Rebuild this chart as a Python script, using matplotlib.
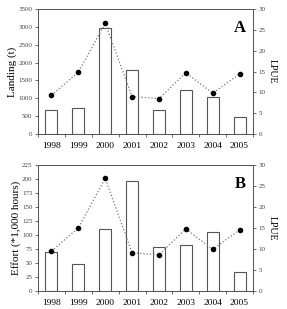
import numpy as np
import matplotlib.pyplot as plt
from matplotlib.ticker import FixedLocator

plt.rcParams['font.family'] = ['Liberation Serif', 'DejaVu Serif']

years = ['1998', '1999', '2000', '2001', '2002', '2003', '2004', '2005']
landing = [680, 720, 2960, 1800, 670, 1230, 1050, 490]
effort = [70, 48, 110, 197, 78, 82, 105, 34]
lpue_a = [9.3, 14.8, 26.6, 9.0, 8.5, 14.7, 9.8, 14.4]
lpue_b = [9.5, 15.0, 26.8, 9.1, 8.6, 14.8, 9.9, 14.5]

fig = plt.figure(figsize=(2.87, 3.09), dpi=100)
x = np.arange(len(years))


def panel(rect, bars, lpue, ymax, ystep, ylabel, letter):
    ax = fig.add_axes(rect)
    ax.bar(x, bars, width=0.45, color='white', edgecolor='#555555', linewidth=0.8)
    ax.set_xlim(-0.5, 7.5)
    ax.set_ylim(0, ymax)
    ax.set_yticks(np.arange(0, ymax + 1, ystep))
    ax.set_xticks(x)
    ax.set_xticklabels(years)
    ax.xaxis.set_minor_locator(FixedLocator(np.arange(-0.5, 8, 1)))
    ax.tick_params(axis='x', which='major', length=0, labelsize=6.8, pad=6)
    ax.tick_params(axis='x', which='minor', length=2, width=0.6, color='#555555')
    ax.tick_params(axis='y', labelsize=5, length=2, width=0.6, color='#555555',
                   labelcolor='#444444', pad=2)
    ax.set_ylabel(ylabel, fontsize=8, labelpad=1)
    for s in ax.spines.values():
        s.set_color('#555555')
        s.set_linewidth(0.7)
    ax.text(0.965, 0.85, letter, transform=ax.transAxes, ha='right', va='center',
            fontsize=12, fontweight='bold')

    ax2 = ax.twinx()
    ax2.plot(x, lpue, linestyle=':', color='#777777', linewidth=0.9,
             marker='o', markersize=3, markerfacecolor='black',
             markeredgecolor='black')
    ax2.set_ylim(0, 30)
    ax2.set_yticks(np.arange(0, 31, 5))
    ax2.tick_params(axis='y', labelsize=5, length=2, width=0.6, color='#555555',
                    labelcolor='#444444', pad=2)
    ax2.set_ylabel('LPUE', fontsize=7, rotation=270, labelpad=8)
    for s in ax2.spines.values():
        s.set_color('#555555')
        s.set_linewidth(0.7)
    return ax


panel([38 / 287, 1 - 134 / 309, 215 / 287, 125 / 309], landing, lpue_a,
      3500, 500, 'Landing (t)', 'A')
panel([38 / 287, 1 - 291 / 309, 215 / 287, 126 / 309], effort, lpue_b,
      225, 25, 'Effort (*1,000 hours)', 'B')

fig.savefig('out.png', dpi=100)
